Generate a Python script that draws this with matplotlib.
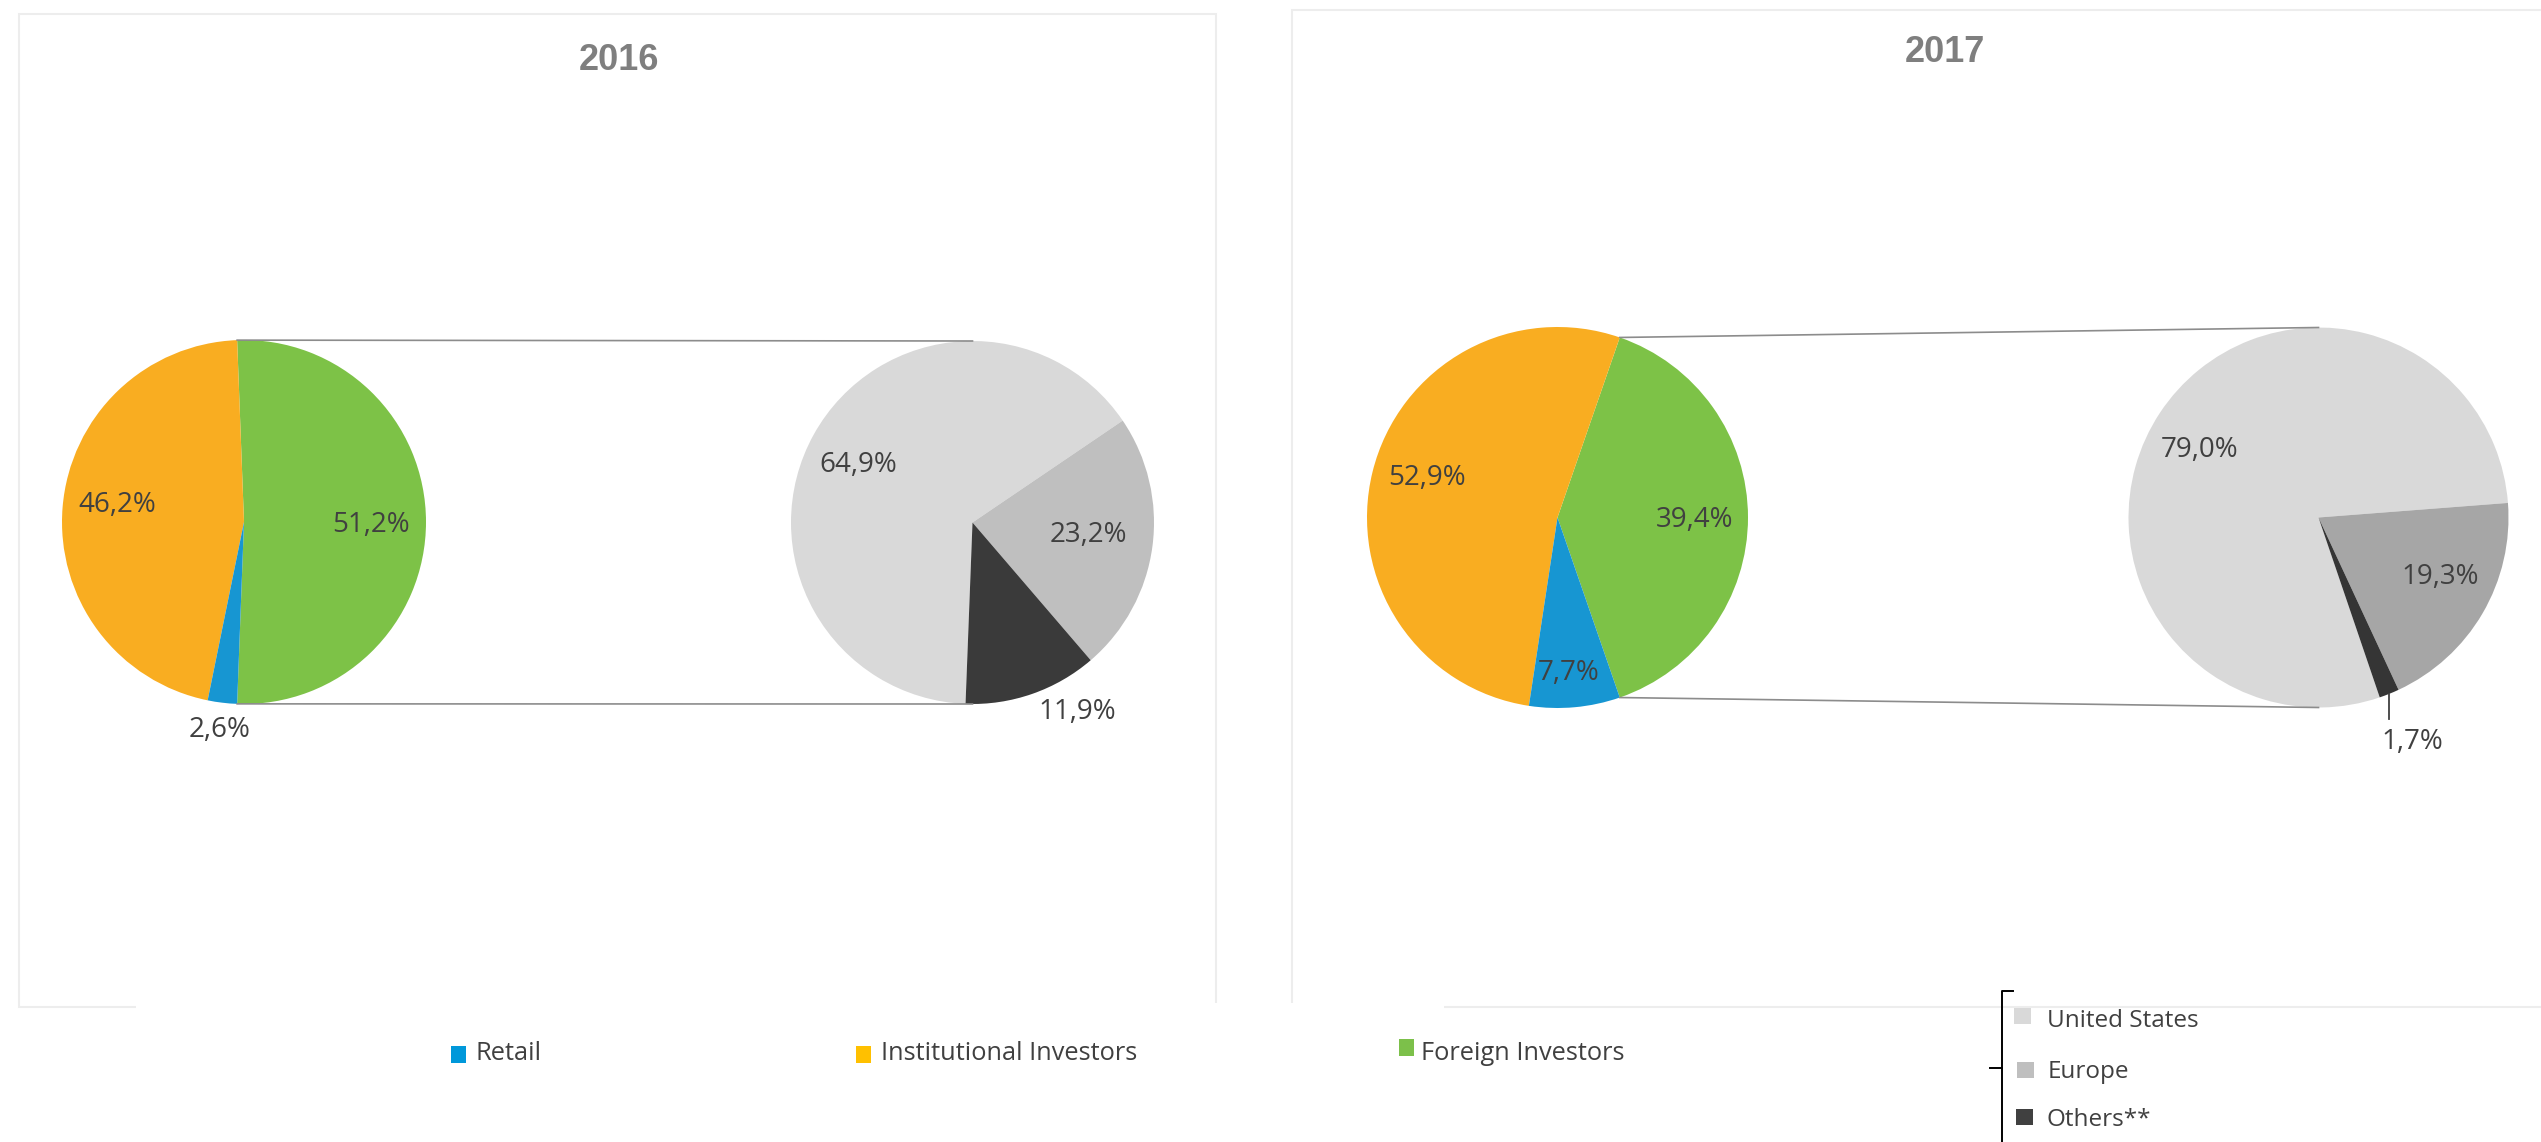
import numpy as np
import matplotlib
matplotlib.use('Agg')
import matplotlib.pyplot as plt
from matplotlib.patches import Rectangle

W, H = 2541, 1142

# data
years = ['2016', '2017']
investor_types = ['Retail', 'Institutional Investors', 'Foreign Investors']
retail = [2.6, 7.7]
institutional = [46.2, 52.9]
foreign = [51.2, 39.4]

regions = ['United States', 'Europe', 'Others**']
us = [64.9, 79.0]
europe = [23.2, 19.3]
others = [11.9, 1.7]

# colours
c_retail, c_inst, c_foreign = '#1796d2', '#f9ad21', '#7dc247'
leg_retail, leg_inst, leg_foreign = '#0098da', '#ffc000', '#7cc04a'
c_us = '#d9d9d9'
c_europe = ['#bfbfbf', '#a6a6a6']
c_others = ['#3a3a3a', '#353535']
txt_col = '#404040'

# layout, in pixels of the final picture (y from the top)
main_c = [(244, 522), (1557.5, 517.5)]
main_r = [182, 190.5]
sub_c = [(972.5, 522.5), (2318.5, 517.5)]
sub_r = [181.5, 190]
sub_start = [-92.2, -71.2]
title_xy = [(619, 60), (1945, 53)]
# label placement (radius factor, angle shift) per wedge
main_lab = [[(0.70, -1.3), (0.70, -2.9), (1.15, 0.2)],
            [(0.72, -1.0), (0.716, -3.0), (0.82, -1.0)]]
sub_lab = [[(0.705, 2.3), (0.64, 1.3), (1.19, 9.7)],
           [(0.72, 3.7), (0.71, 4.3), (1.28, 0.8)]]
leader = [False, True]


def Y(y):
    return H - y


def pct(v):
    return ('%.1f' % v).replace('.', ',') + '%'


plt.rcParams['font.family'] = ['Open Sans', 'DejaVu Sans']
fig = plt.figure(figsize=(W / 100, H / 100), dpi=100)
ax = fig.add_axes([0, 0, 1, 1])

# panel frames
ax.add_patch(Rectangle((19, Y(1007)), 1197, 993, fill=False, ec='#ededed', lw=1.5))
ax.add_patch(Rectangle((1292, Y(1007)), 1260, 997, fill=False, ec='#ededed', lw=1.5))
ax.add_patch(Rectangle((136, 0), 1308, Y(1003), fc='white', ec='none', zorder=1))


def put_labels(wedges, labels, cx, cy, r, params, fs=20):
    out = []
    for w, lab, (rf, da) in zip(wedges, labels, params):
        a = np.deg2rad((w.theta1 + w.theta2) / 2 + da)
        x, y = cx + rf * r * np.cos(a), cy + rf * r * np.sin(a)
        ax.text(x, y, lab, ha='center', va='center', fontsize=fs,
                color=txt_col, zorder=5)
        out.append((x, y))
    return out


for i, yr in enumerate(years):
    # main pie, the foreign slice centred on the right
    mx, my = main_c[i][0], Y(main_c[i][1])
    vals = [foreign[i], institutional[i], retail[i]]
    half = foreign[i] / sum(vals) * 180
    wm, _ = ax.pie(vals, colors=[c_foreign, c_inst, c_retail], startangle=-half,
                   center=(mx, my), radius=main_r[i], frame=True,
                   wedgeprops=dict(linewidth=0))
    put_labels(wm, [pct(v) for v in vals], mx, my, main_r[i], main_lab[i])

    # second pie: split of the foreign investors
    sx, sy = sub_c[i][0], Y(sub_c[i][1])
    svals = [us[i], europe[i], others[i]]
    ws, _ = ax.pie(svals, colors=[c_us, c_europe[i], c_others[i]],
                   startangle=sub_start[i], counterclock=False,
                   center=(sx, sy), radius=sub_r[i], frame=True,
                   wedgeprops=dict(linewidth=0))
    pos = put_labels(ws, [pct(v) for v in svals], sx, sy, sub_r[i], sub_lab[i])
    if leader[i]:
        w = ws[2]
        a = np.deg2rad((w.theta1 + w.theta2) / 2)
        lx, ly = sx + sub_r[i] * np.cos(a), sy + sub_r[i] * np.sin(a)
        ax.plot([lx, lx], [ly, ly - 25], color=txt_col, lw=1.3, zorder=4)

    # connector lines
    for s in (1, -1):
        a = np.deg2rad(s * half)
        ax.plot([mx + main_r[i] * np.cos(a), sx], [my + main_r[i] * np.sin(a), sy + s * sub_r[i]],
                color='#8c8c8c', lw=1.2, zorder=3)

    ax.text(title_xy[i][0], Y(title_xy[i][1]), yr, ha='center', va='center',
            fontsize=26, fontweight='bold', color='#7f7f7f', family='Liberation Sans')

# bottom legend for investor types
leg_cols = [leg_retail, leg_inst, leg_foreign]
leg_box = [(451, 1046), (856, 1046), (1399, 1039)]
leg_txt = [(475, 1054), (881, 1054), (1421, 1054)]
for lab, col, (bx, by), (tx, ty) in zip(investor_types, leg_cols, leg_box, leg_txt):
    ax.add_patch(Rectangle((bx, Y(by + 17)), 15, 17, fc=col, ec='none', zorder=5))
    ax.text(tx, Y(ty), lab, ha='left', va='center', fontsize=18.3, color=txt_col, zorder=5)

# right legend with bracket
reg_cols = [c_us, '#bfbfbf', '#404040']
reg_box = [(2014, 1008), (2017, 1062), (2016, 1109)]
reg_txt = [(2047, 1021), (2048, 1072), (2047, 1120)]
for lab, col, (bx, by), (tx, ty) in zip(regions, reg_cols, reg_box, reg_txt):
    ax.add_patch(Rectangle((bx, Y(by + 16)), 17, 16, fc=col, ec='none', zorder=5))
    ax.text(tx, Y(ty), lab, ha='left', va='center', fontsize=17.5, color=txt_col, zorder=5)
ax.plot([2013, 2002, 2002], [Y(991), Y(991), 0], color='black', lw=1.4, zorder=5)
ax.plot([1990, 2002], [Y(1068), Y(1068)], color='black', lw=1.4, zorder=5)

ax.set_xlim(0, W)
ax.set_ylim(0, H)
ax.set_aspect('auto')
ax.axis('off')

fig.savefig('out.png', dpi=100, facecolor='white')
